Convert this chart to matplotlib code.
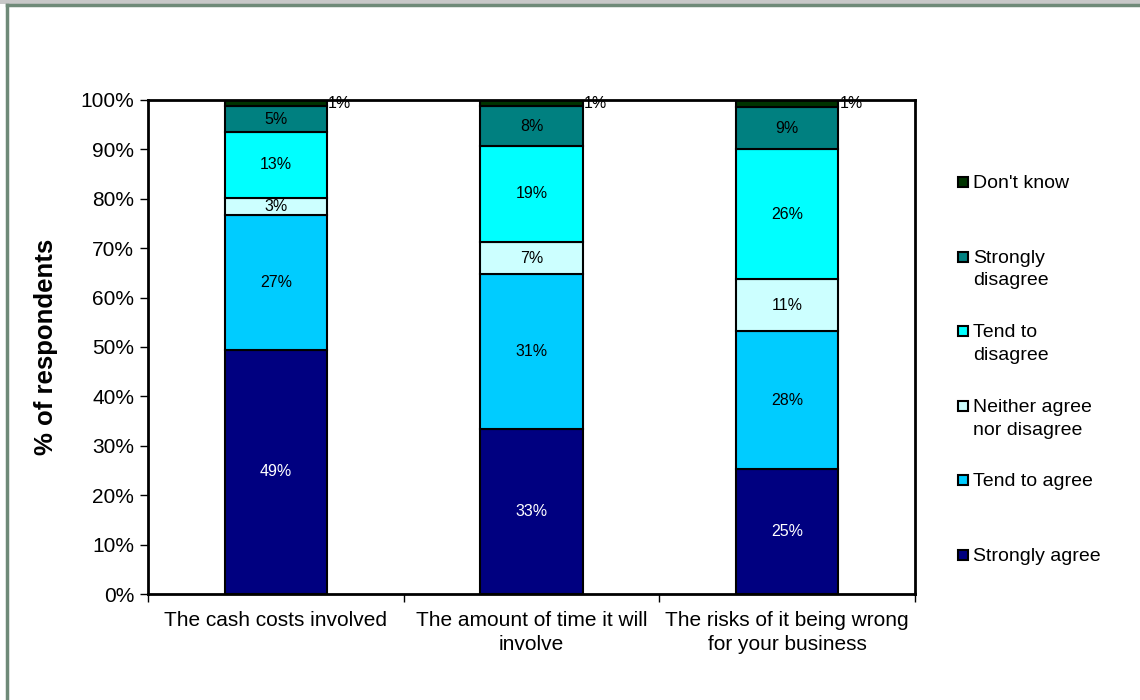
import matplotlib.pyplot as plt
import numpy as np
from matplotlib.lines import Line2D

plt.rcParams['font.family'] = ['Liberation Sans', 'DejaVu Sans']

# data (% of respondents)
categories = ['The cash costs involved',
              'The amount of time it will\ninvolve',
              'The risks of it being wrong\nfor your business']
series_names = ['Strongly agree', 'Tend to agree', 'Neither agree\nnor disagree',
                'Tend to\ndisagree', 'Strongly\ndisagree', "Don't know"]
strongly_agree = [49.4, 33.4, 25.3]
tend_to_agree = [27.4, 31.3, 27.9]
neither = [3.4, 6.6, 10.6]
tend_to_disagree = [13.3, 19.4, 26.2]
strongly_disagree = [5.2, 8.0, 8.6]
dont_know = [1.3, 1.3, 1.4]

colors = ['#000080', '#00ccff', '#ccffff', '#00ffff', '#008080', '#003300']
text_colors = ['white', 'black', 'black', 'black', 'black', 'black']

series = [strongly_agree, tend_to_agree, neither, tend_to_disagree,
          strongly_disagree, dont_know]

fig = plt.figure(figsize=(11.4, 7.0), dpi=100)
ax = fig.add_axes([148/1140, 106/700, (915-148)/1140, (594-100)/700])

x = np.arange(len(categories))
width = 0.4
bottom = np.zeros(len(categories))
for i, vals in enumerate(series):
    vals = np.array(vals)
    ax.bar(x, vals, width, bottom=bottom, color=colors[i], edgecolor='black',
           linewidth=1.5, zorder=2)
    for j in range(len(x)):
        lab = '%d%%' % round(vals[j])
        if i == len(series) - 1:
            ax.text(x[j] + width/2 + 0.004, bottom[j] + vals[j]/2, lab,
                    ha='left', va='center', fontsize=11.5, color='black')
        else:
            ax.text(x[j], bottom[j] + vals[j]/2, lab, ha='center', va='center',
                    fontsize=11.5, color=text_colors[i])
    bottom += vals

ax.set_xlim(-0.5, 2.5)
ax.set_ylim(0, 100)
ax.set_yticks(np.arange(0, 101, 10))
ax.set_yticklabels(['%d%%' % v for v in range(0, 101, 10)], fontsize=15)
ax.tick_params(axis='y', direction='out', length=6, width=1, pad=4)
ax.set_xticks(x)
ax.set_xticklabels(categories, fontsize=15, linespacing=1.35)
ax.tick_params(axis='x', which='major', length=0, pad=12)
ax.set_xticks([-0.5, 0.5, 1.5, 2.5], minor=True)
ax.tick_params(axis='x', which='minor', direction='out', length=6, width=1)
for s in ax.spines.values():
    s.set_linewidth(2)
    s.set_zorder(3)

ax.set_ylabel('% of respondents', fontsize=18.5, fontweight='bold')
ax.yaxis.set_label_coords(-0.117, 0.5)

# legend, top entry first, evenly spaced like the original
for k, i in enumerate(range(len(series) - 1, -1, -1)):
    ypix = 182 + 74.6 * k
    ya = (594 - ypix) / 494
    ax.add_patch(plt.Rectangle((810/767, ya - 5/494), 10/767, 10/494,
                               transform=ax.transAxes, facecolor=colors[i],
                               edgecolor='black', linewidth=1.5, clip_on=False))
    ax.text(825/767, ya + 7/494, series_names[i], transform=ax.transAxes,
            ha='left', va='top', fontsize=14, linespacing=1.45)

# screenshot frame
fig.add_artist(plt.Rectangle((0, 696/700), 1, 4/700, transform=fig.transFigure,
                             facecolor='#c8c8c8', edgecolor='none'))
fig.add_artist(Line2D([7/1140, 1], [695/700, 695/700], transform=fig.transFigure,
                      color='#6f8a78', linewidth=2.5))
fig.add_artist(Line2D([7/1140, 7/1140], [0, 695/700], transform=fig.transFigure,
                      color='#6f8a78', linewidth=2.5))

fig.savefig('out.png', dpi=100)
